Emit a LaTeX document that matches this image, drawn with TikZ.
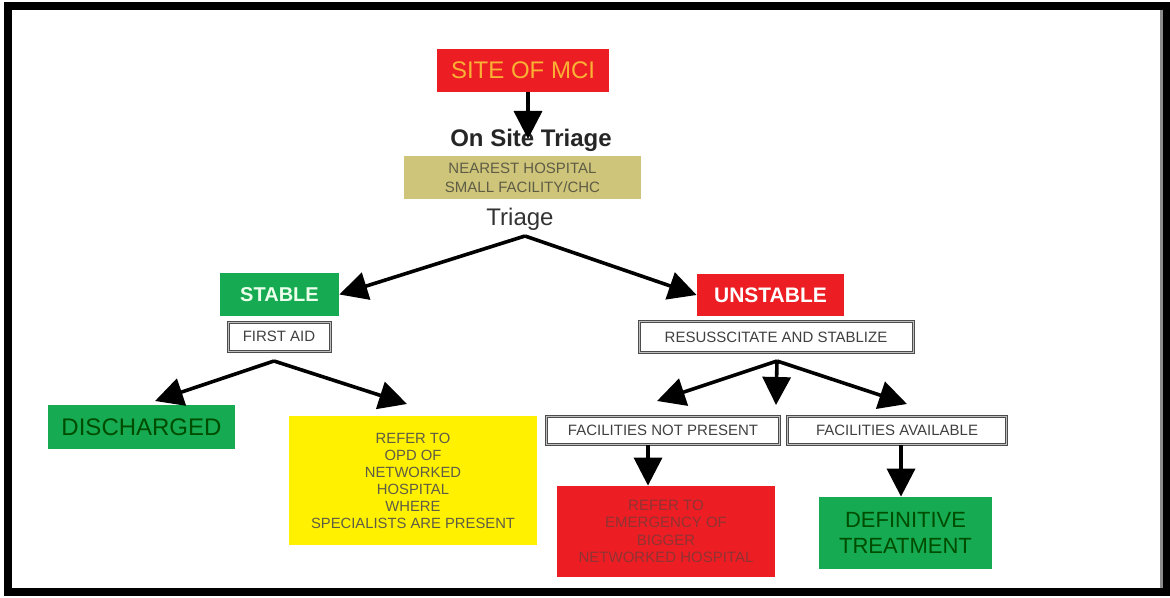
\documentclass[tikz,border=0pt]{standalone}
\usepackage{fontspec}
\setmainfont{Liberation Sans}
\usetikzlibrary{arrows.meta}

\definecolor{mcired}{RGB}{236,30,36}
\definecolor{mciorange}{RGB}{250,178,52}
\definecolor{mciolive}{RGB}{206,197,122}
\definecolor{mcigreen}{RGB}{22,170,82}
\definecolor{mciyellow}{RGB}{255,241,0}
\definecolor{mcitext}{RGB}{95,92,70}

\begin{document}
\begin{tikzpicture}[x=0.5pt,y=-0.5pt,
  every node/.style={inner sep=0pt,align=center},
  whitebox/.style={draw=black!70,double=black!25,double distance=0.5pt,line width=0.5pt,fill=white,font=\fontsize{7.5}{9}\selectfont,text=black!75},
  arr/.style={line width=1.8pt,line join=round,-{Triangle[length=14pt,width=14pt]}}]
\useasboundingbox (0,0) rectangle (1170,598);
\fill [white] (0,0) rectangle (1170,598);
\draw [black,line width=4pt] (8,6) rectangle (1166,592);
\draw [black!45,line width=1.5pt] (1161,10) -- (1161,588);

% top part
\node (site) [fill=mcired,minimum width=86pt,minimum height=21.5pt,text=mciorange,font=\fontsize{12}{14}\selectfont] at (523,70.5) {SITE OF MCI};
\node (onsite) [font=\bfseries\fontsize{12}{14}\selectfont,text=black!85] at (531,140) {On Site Triage};
\node (nearest) [fill=mciolive,minimum width=118.5pt,minimum height=21.5pt,text=mcitext,font=\fontsize{7.5}{9.5}\selectfont] at (522.5,177.5) {NEAREST HOSPITAL\\SMALL FACILITY/CHC};
\node (triage) [font=\fontsize{12}{14}\selectfont,text=black!80] at (520,219) {Triage};

% stable branch
\node (stable) [fill=mcigreen,minimum width=59.5pt,minimum height=21.5pt,text=green!8,font=\bfseries\fontsize{10}{12}\selectfont] at (279.5,294.5) {STABLE};
\node (aid) [whitebox,minimum width=51pt,minimum height=14.5pt] at (279,336.5) {FIRST AID};
\node (dis) [fill=mcigreen,minimum width=93.5pt,minimum height=22pt,text=green!30!black,font=\fontsize{12}{14}\selectfont] at (141.5,427) {DISCHARGED};
\node (refer) [fill=mciyellow,minimum width=124pt,minimum height=64.5pt,text=mcitext,font=\fontsize{7.4}{8.5}\selectfont] at (413,480.5) {REFER TO\\OPD OF\\NETWORKED\\HOSPITAL\\WHERE\\SPECIALISTS ARE PRESENT};

% unstable branch
\node (unstable) [fill=mcired,minimum width=73.5pt,minimum height=21pt,text=white,font=\bfseries\fontsize{10.5}{12}\selectfont] at (770.5,295) {UNSTABLE};
\node (resus) [whitebox,minimum width=137pt,minimum height=15.5pt] at (776,337) {RESUSSCITATE AND STABLIZE};
\node (notpres) [whitebox,minimum width=116.5pt,minimum height=14pt] at (663,430.5) {FACILITIES NOT PRESENT};
\node (avail) [whitebox,minimum width=109.5pt,minimum height=14pt] at (897,430.5) {FACILITIES AVAILABLE};
\node (bigger) [fill=mcired,minimum width=109pt,minimum height=45.5pt,text=red!45!black!80,font=\fontsize{7.5}{8.75}\selectfont] at (666,531.5) {REFER TO\\EMERGENCY OF\\BIGGER\\NETWORKED HOSPITAL};
\node (definitive) [fill=mcigreen,minimum width=86.5pt,minimum height=36pt,text=green!30!black,font=\fontsize{11}{13}\selectfont] at (905.5,533) {DEFINITIVE\\TREATMENT};

% forks and tips
\coordinate (sitetip) at (528,139);
\coordinate (triagefork) at (525,236);
\coordinate (aidfork) at (274,361);
\coordinate (distip) at (155,401);
\coordinate (refertip) at (407,404);
\coordinate (resusfork) at (777,361);
\coordinate (notprestip) at (657,401);
\coordinate (midtip) at (776,405);
\coordinate (availtip) at (907,404);

% arrows
\draw [arr] (site.south -| sitetip) -- (sitetip);
\draw [arr] (triagefork) -- (stable.east);
\draw [arr] (triagefork) -- (unstable.west);
\draw [arr] (aidfork) -- (distip);
\draw [arr] (aidfork) -- (refertip);
\draw [arr] (resusfork) -- (notprestip);
\draw [arr] (resusfork) -- (midtip);
\draw [arr] (resusfork) -- (availtip);
\draw [arr] (notpres.south -| 648,0) -- (bigger.north -| 648,0);
\draw [arr] (avail.south -| 901,0) -- (definitive.north -| 901,0);
\end{tikzpicture}
\end{document}
